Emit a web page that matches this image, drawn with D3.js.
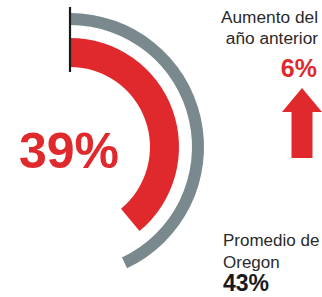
<!DOCTYPE html>
<html>
<head>
<meta charset="utf-8">
<script src="https://cdn.jsdelivr.net/npm/d3@7"></script>
<style>
html,body{margin:0;padding:0;background:#fff;}
svg{display:block;}
text{font-family:"Liberation Sans",Arial,sans-serif;}
</style>
</head>
<body>
<svg id="chart" width="322" height="297"></svg>
<script>
// Data
const seriesNames = ["Oregon", "Local"];
const seriesValues = [43, 39];          // percent
const changeValue = 6;                    // increase vs previous year
const labelChange = ["Aumento del", "año anterior"];
const labelAverage = ["Promedio de", "Oregon"];

const W = 322, H = 297;
const svg = d3.select("#chart");
const cx = 70, cy = 147;

const angle = d3.scaleLinear().domain([0, 100]).range([0, 2 * Math.PI]);

const red = "#e0292d", gray = "#7a898d";

const g = svg.append("g").attr("transform", `translate(${cx},${cy})`);

// Gray arc (Oregon average)
g.append("path")
  .attr("d", d3.arc().innerRadius(122).outerRadius(134)
    .startAngle(angle(0)).endAngle(angle(seriesValues[0]))())
  .attr("fill", gray);

// Red arc (local value)
g.append("path")
  .attr("d", d3.arc().innerRadius(80).outerRadius(109)
    .startAngle(angle(0)).endAngle(angle(seriesValues[1]))())
  .attr("fill", red);

// Baseline tick at 0
g.append("line")
  .attr("x1", 0).attr("x2", 0).attr("y1", -140).attr("y2", -75)
  .attr("stroke", "#1a1a1a").attr("stroke-width", 2.2);

// Big value
svg.append("text")
  .attr("x", 69).attr("y", 168)
  .attr("text-anchor", "middle")
  .attr("font-size", 50).attr("font-weight", "bold")
  .attr("fill", red)
  .text(seriesValues[1] + "%");

// Change label
svg.append("g").selectAll("text").data(labelChange).join("text")
  .attr("x", 318).attr("y", (d, i) => 23 + i * 21)
  .attr("text-anchor", "end")
  .attr("font-size", 17.3).attr("fill", "#2a2a2a")
  .text(d => d);

svg.append("text")
  .attr("x", 317).attr("y", 77)
  .attr("text-anchor", "end")
  .attr("font-size", 25).attr("font-weight", "bold")
  .attr("fill", red)
  .text(changeValue + "%");

// Arrow up
const ax = 302;
const arrow = d3.path();
arrow.moveTo(ax, 88);
arrow.lineTo(ax + 20, 112);
arrow.lineTo(ax + 10.5, 112);
arrow.lineTo(ax + 10.5, 158);
arrow.lineTo(ax - 10.5, 158);
arrow.lineTo(ax - 10.5, 112);
arrow.lineTo(ax - 20, 112);
arrow.closePath();
svg.append("path").attr("d", arrow.toString()).attr("fill", red);

// Average label
svg.append("g").selectAll("text").data(labelAverage).join("text")
  .attr("x", 223).attr("y", (d, i) => 246 + i * 22)
  .attr("font-size", 17).attr("fill", "#2a2a2a")
  .text(d => d);

svg.append("text")
  .attr("x", 223).attr("y", 291)
  .attr("font-size", 23).attr("font-weight", "bold")
  .attr("fill", "#1a1a1a")
  .text(seriesValues[0] + "%");
</script>
</body>
</html>
